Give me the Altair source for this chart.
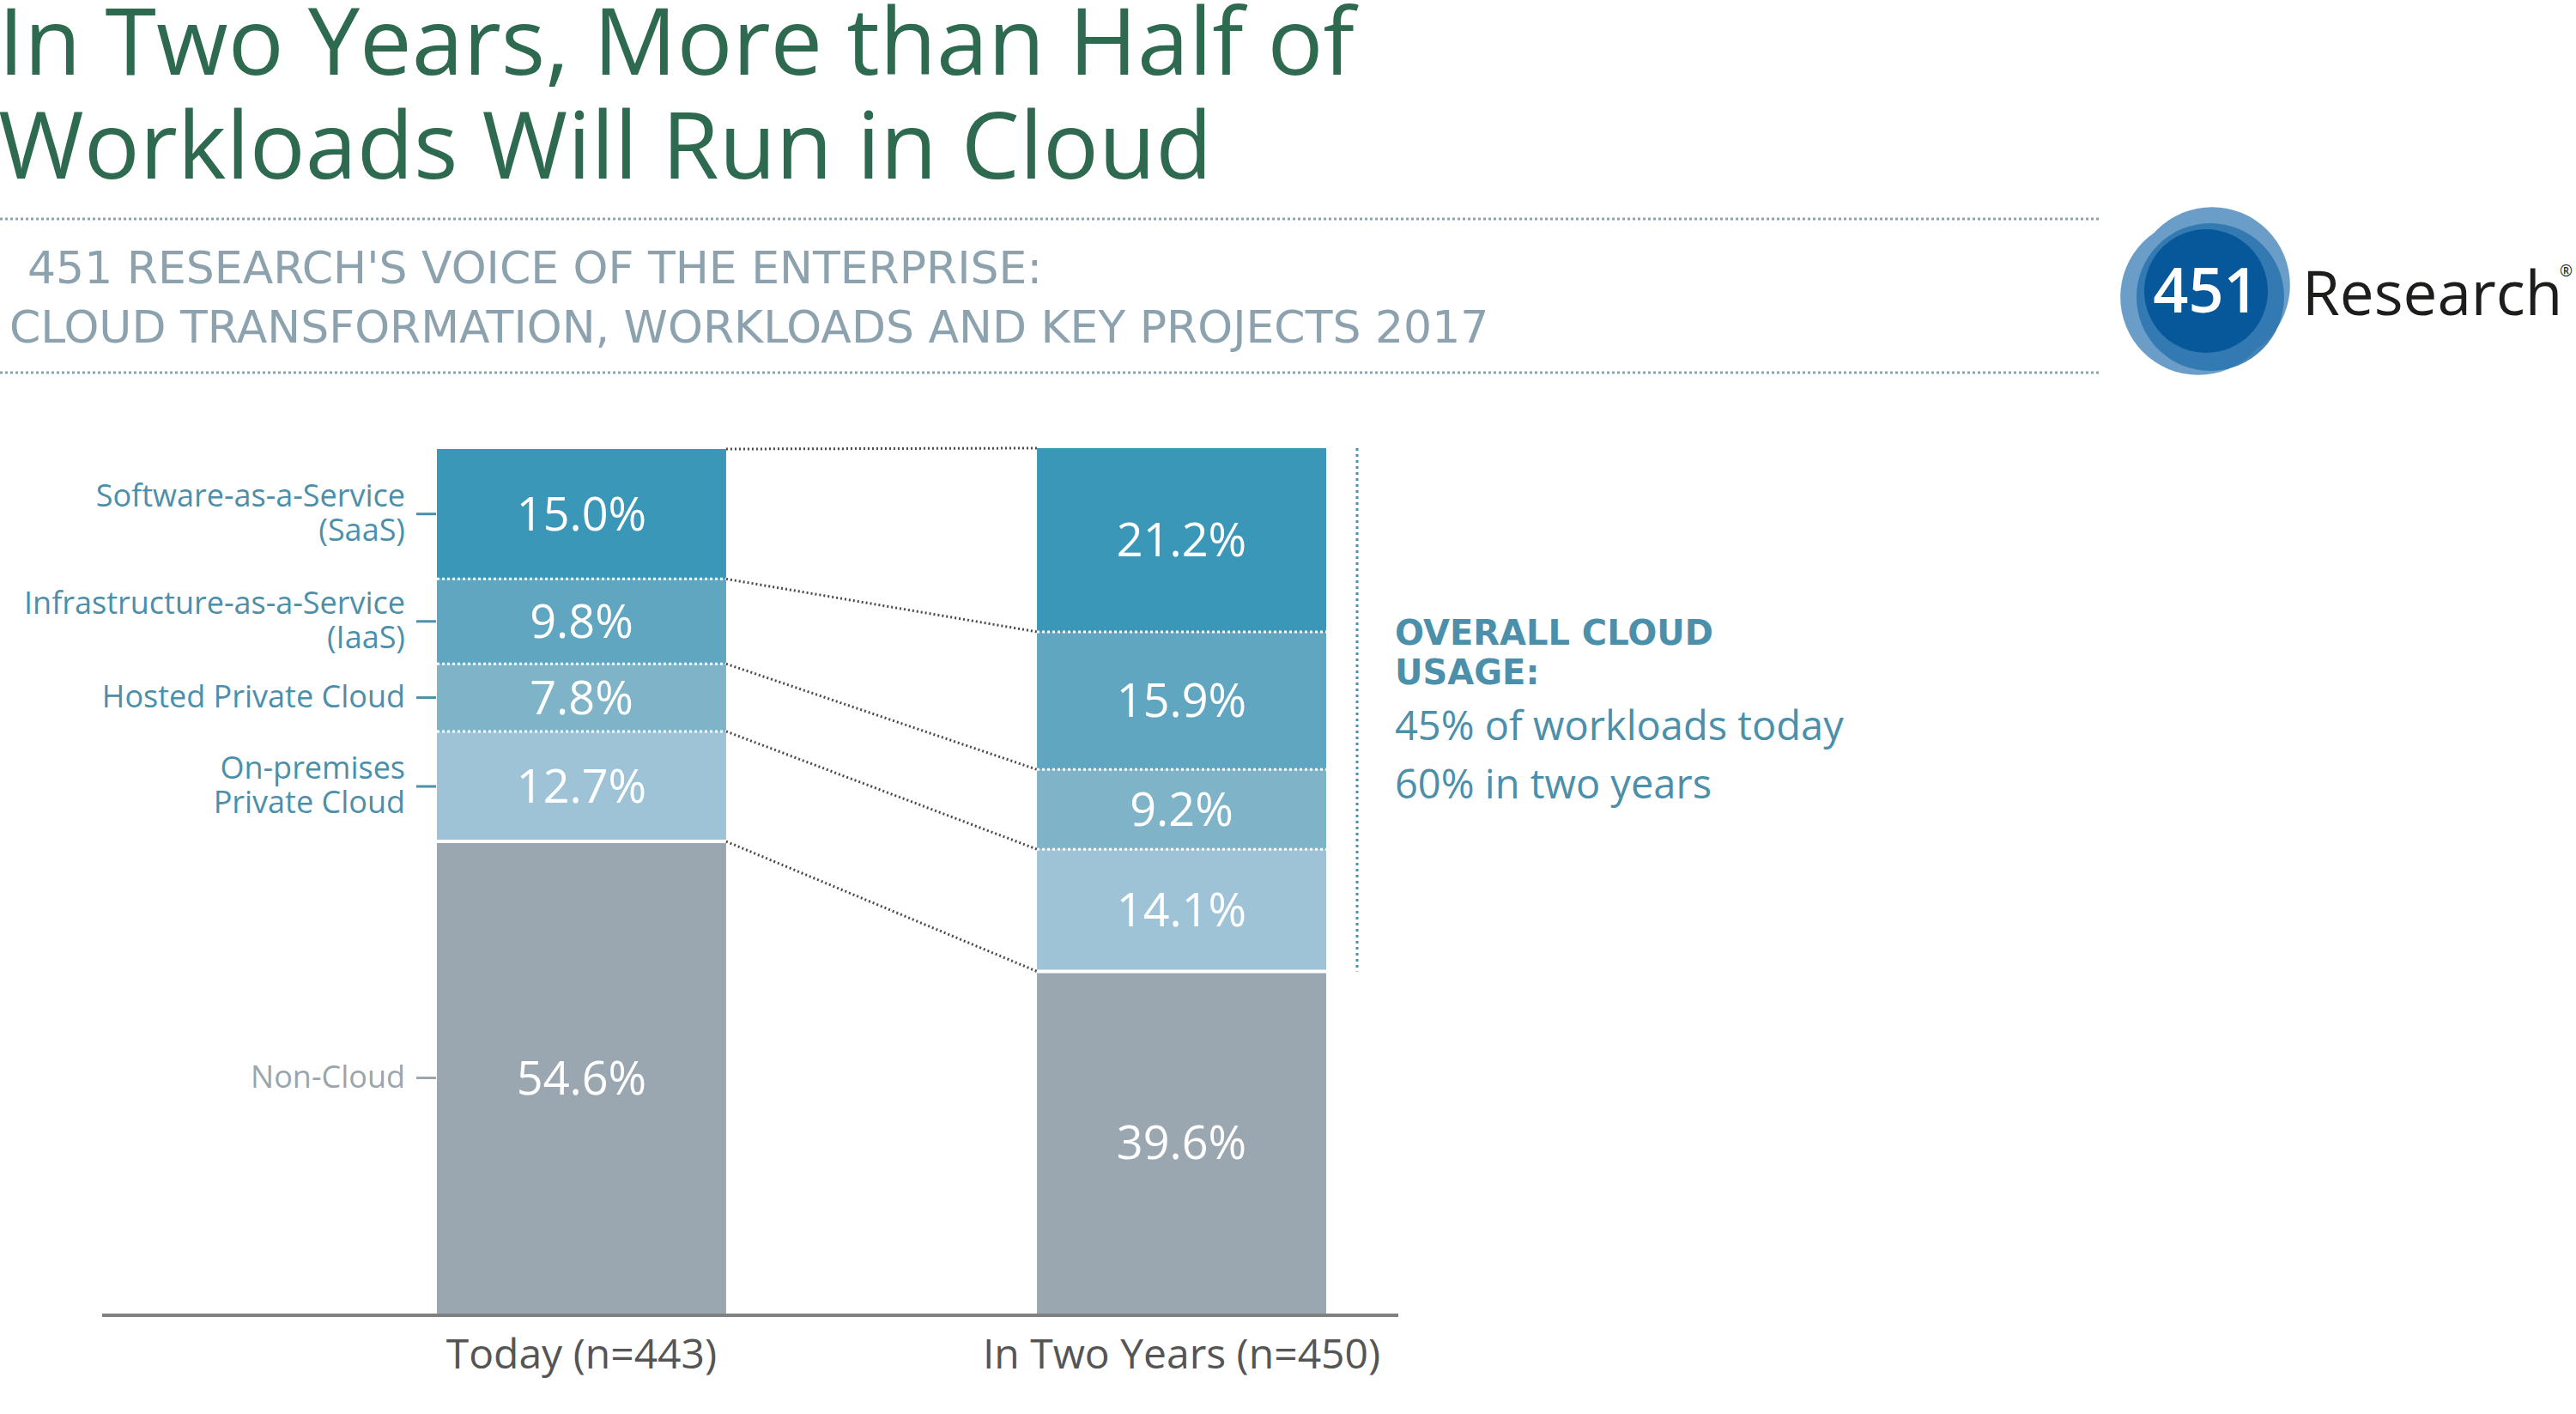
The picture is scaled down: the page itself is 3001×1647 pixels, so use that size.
import altair as alt
import pandas as pd
import numpy as np

# ---------------- data ----------------
periods = ["Today (n=443)", "In Two Years (n=450)"]
categories = ["Non-Cloud", "On-premises Private Cloud", "Hosted Private Cloud",
              "Infrastructure-as-a-Service (IaaS)", "Software-as-a-Service (SaaS)"]
label_lines = ["Non-Cloud", "On-premises\nPrivate Cloud", "Hosted Private Cloud",
               "Infrastructure-as-a-Service\n(IaaS)", "Software-as-a-Service\n(SaaS)"]
today_values = [54.6, 12.7, 7.8, 9.8, 15.0]
future_values = [39.6, 14.1, 9.2, 15.9, 21.2]

title_lines = ["In Two Years, More than Half of", "Workloads Will Run in Cloud"]
subtitle_lines = ["451 RESEARCH'S VOICE OF THE ENTERPRISE:",
                  "CLOUD TRANSFORMATION, WORKLOADS AND KEY PROJECTS 2017"]
note_heading = ["OVERALL CLOUD", "USAGE:"]
note_lines = ["45% of workloads today", "60% in two years"]
logo_number = "451"
logo_word = "Research"

# ---------------- styles ----------------
bar_colors = ["#9BA7B0", "#9EC3D6", "#7FB3C8", "#60A6C1", "#3B97B8"]
label_colors = ["#9AA5AE", "#4B8FAA", "#4B8FAA", "#4B8FAA", "#4B8FAA"]
TEAL = "#4B8FAA"
FONT = "Open Sans"

# ---------------- tables ----------------
rows = []
for p, vals in zip(periods, [today_values, future_values]):
    cum = 0.0
    for i, (c, v) in enumerate(zip(categories, vals)):
        rows.append(dict(period=p, category=c, value=v, start=cum, end=cum + v,
                         mid=cum + v / 2, pct=f"{v:.1f}%", label=label_lines[i],
                         lines=label_lines[i].count("\n") + 1))
        cum += v
df = pd.DataFrame(rows)
df_today = df[df["period"] == periods[0]]
df_one_line = df_today[df_today["lines"] == 1]
df_two_line = df_today[df_today["lines"] == 2]

tc = np.cumsum(today_values)
fc = np.cumsum(future_values)
conn = pd.DataFrame({"a": periods[0], "b": periods[1], "ya": tc, "yb": fc})

brows = []
for p, cums in zip(periods, [tc, fc]):
    for k in range(len(categories) - 1):
        brows.append(dict(period=p, y=float(cums[k]), solid=(k == 0)))
bdf = pd.DataFrame(brows)

one = pd.DataFrame({"k": [0]})

xscale = alt.Scale(domain=periods, paddingInner=0.518, paddingOuter=0)
yscale = alt.Scale(domain=[0, 100], nice=False, zero=True)
X = lambda f, **kw: alt.X(f, scale=xscale, axis=None, **kw)
Y = lambda f: alt.Y(f, scale=yscale, axis=None)
label_color = alt.Color("category:N", scale=alt.Scale(domain=categories, range=label_colors), legend=None)

bars = alt.Chart(df).mark_bar().encode(
    x=X("period:N"), y=Y("start:Q"), y2="end:Q",
    color=alt.Color("category:N", scale=alt.Scale(domain=categories, range=bar_colors), legend=None),
)

bar_text = alt.Chart(df).mark_text(font=FONT, fontSize=54, color="white", baseline="middle", dy=3).encode(
    x=X("period:N"), y=Y("mid:Q"), text="pct:N"
)

inner_dotted = alt.Chart(bdf[~bdf["solid"]]).mark_rule(color="white", strokeWidth=3, strokeDash=[3, 3]).encode(
    x=X("period:N", bandPosition=0), x2=alt.X2("period:N", bandPosition=1), y=Y("y:Q")
)
inner_solid = alt.Chart(bdf[bdf["solid"]]).mark_rule(color="white", strokeWidth=4).encode(
    x=X("period:N", bandPosition=0), x2=alt.X2("period:N", bandPosition=1), y=Y("y:Q")
)

connectors = alt.Chart(conn).mark_rule(color="#4a4a4a", strokeWidth=3, strokeDash=[2, 3]).encode(
    x=X("a:N", bandPosition=1), x2=alt.X2("b:N", bandPosition=0), y=Y("ya:Q"), y2="yb:Q"
)

label_props = dict(font=FONT, fontSize=36, align="right", baseline="middle", lineBreak="\n", lineHeight=40)
left_labels_1 = alt.Chart(df_one_line).mark_text(**label_props).encode(
    x=alt.value(-37), y=Y("mid:Q"), text="label:N", color=label_color,
)
left_labels_2 = alt.Chart(df_two_line).mark_text(dy=-20, **label_props).encode(
    x=alt.value(-37), y=Y("mid:Q"), text="label:N", color=label_color,
)
left_ticks = alt.Chart(df_today).mark_rule(strokeWidth=3).encode(
    x=alt.value(-24), x2=alt.value(-1), y=Y("mid:Q"), color=label_color,
)

baseline = alt.Chart(one).mark_rule(color="#808080", strokeWidth=4).encode(
    x=alt.value(-390), x2=alt.value(1120), y=alt.value(1010)
)

x_labels = alt.Chart(pd.DataFrame({"period": periods})).mark_text(
    font=FONT, fontSize=48, color="#555555", baseline="alphabetic"
).encode(x=X("period:N"), y=alt.value(1072), text="period:N")

bracket = alt.Chart(pd.DataFrame({"top": [sum(future_values)], "low": [future_values[0]]})).mark_rule(
    color=TEAL, strokeWidth=3, strokeDash=[3, 4]
).encode(x=alt.value(1072), y=Y("top:Q"), y2="low:Q")


def txt(text, x, y, **kw):
    params = dict(align="left", baseline="alphabetic")
    params.update(kw)
    return alt.Chart(one).mark_text(text=text, **params).encode(x=alt.value(x), y=alt.value(y))


def hline(x1, x2, y, **kw):
    return alt.Chart(one).mark_rule(**kw).encode(x=alt.value(x1), x2=alt.value(x2), y=alt.value(y))


def dot(x, y, size, color, opacity=1):
    return alt.Chart(one).mark_point(shape="circle", filled=True, size=size, color=color,
                                     opacity=opacity, strokeWidth=0).encode(x=alt.value(x), y=alt.value(y))


decor = [
    txt(title_lines[0], -511, -435, font=FONT, fontSize=108, color="#2D6A4F"),
    txt(title_lines[1], -511, -314, font=FONT, fontSize=108, color="#2D6A4F"),
    hline(-509, 1937, -267, color="#8CA2AF", strokeWidth=3, strokeDash=[3, 3]),
    hline(-509, 1937, -88, color="#8CA2AF", strokeWidth=3, strokeDash=[3, 3]),
    txt(subtitle_lines[0], -477, -192, font="DejaVu Sans", fontSize=52, color="#8CA2AF"),
    txt(subtitle_lines[1], -498, -123, font="DejaVu Sans", fontSize=52, color="#8CA2AF"),
    dot(2068, -190, 33000, "#6A9EC8"),
    dot(2052, -176, 33000, "#6A9EC8"),
    dot(2066, -176, 29584, "#2F75AF", 0.9),
    dot(2061, -183, 20736, "#06589B"),
    txt(logo_number, 2061, -180, align="center", baseline="middle", font=FONT, fontSize=72,
        fontWeight=600, color="white"),
    txt(logo_word, 2173, -155, font=FONT, fontSize=71, color="#1D1D1B"),
    txt("®", 2473, -200, font=FONT, fontSize=18, color="#1D1D1B"),
    txt(note_heading[0], 1116, 229, font="DejaVu Sans", fontSize=40, fontWeight="bold", color=TEAL),
    txt(note_heading[1], 1116, 275, font="DejaVu Sans", fontSize=40, fontWeight="bold", color=TEAL),
    txt(note_lines[0], 1116, 340, font=FONT, fontSize=47, color=TEAL),
    txt(note_lines[1], 1116, 408, font=FONT, fontSize=47, color=TEAL),
]

chart = alt.layer(
    bars, inner_dotted, inner_solid, connectors, bar_text, left_ticks, left_labels_1, left_labels_2,
    baseline, x_labels, bracket, *decor
).resolve_scale(color="independent").properties(
    width=1036, height=1009,
    padding={"left": 509, "top": 522, "right": 1456, "bottom": 116},
    autosize="none", background="white",
).configure_view(stroke=None)

chart.save("out.html", embed_options={"renderer": "svg", "actions": False})
